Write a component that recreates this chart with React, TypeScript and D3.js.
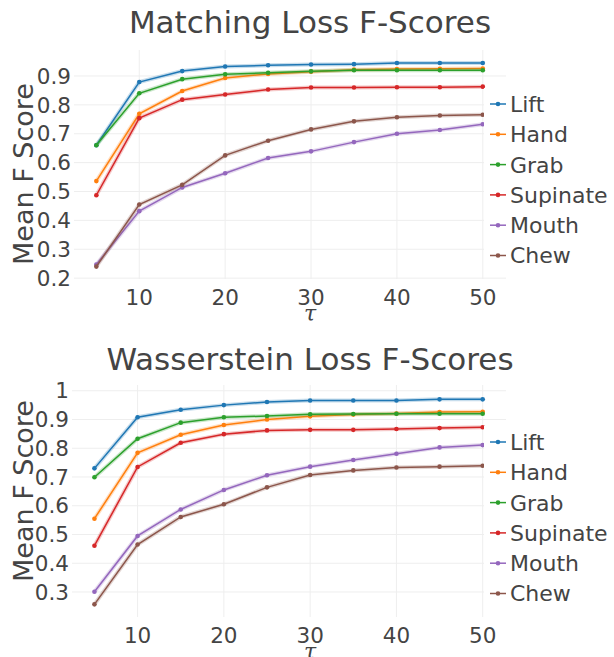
import React from "react";
import * as d3 from "d3";

const taus = [5, 10, 15, 20, 25, 30, 35, 40, 45, 50];
const seriesNames = ["Lift", "Hand", "Grab", "Supinate", "Mouth", "Chew"];
const colors = ["#1f77b4", "#ff7f0e", "#2ca02c", "#d62728", "#9467bd", "#8c564b"];

const matchingLift = [0.66, 0.879, 0.917, 0.933, 0.937, 0.94, 0.941, 0.945, 0.945, 0.945];
const matchingHand = [0.536, 0.769, 0.848, 0.893, 0.907, 0.915, 0.922, 0.924, 0.925, 0.926];
const matchingGrab = [0.66, 0.84, 0.889, 0.906, 0.911, 0.916, 0.92, 0.92, 0.92, 0.92];
const matchingSupinate = [0.487, 0.754, 0.818, 0.836, 0.853, 0.86, 0.86, 0.861, 0.861, 0.863];
const matchingMouth = [0.247, 0.432, 0.514, 0.563, 0.616, 0.639, 0.671, 0.7, 0.713, 0.733];
const matchingChew = [0.24, 0.455, 0.523, 0.625, 0.676, 0.715, 0.743, 0.757, 0.763, 0.766];

const wassLift = [0.73, 0.908, 0.934, 0.95, 0.961, 0.966, 0.966, 0.966, 0.97, 0.97];
const wassHand = [0.555, 0.784, 0.847, 0.881, 0.9, 0.911, 0.917, 0.921, 0.926, 0.927];
const wassGrab = [0.699, 0.833, 0.889, 0.908, 0.912, 0.918, 0.919, 0.92, 0.92, 0.92];
const wassSupinate = [0.461, 0.735, 0.819, 0.849, 0.862, 0.864, 0.864, 0.867, 0.87, 0.873];
const wassMouth = [0.301, 0.495, 0.587, 0.655, 0.706, 0.736, 0.759, 0.781, 0.803, 0.811];
const wassChew = [0.257, 0.465, 0.561, 0.605, 0.664, 0.707, 0.723, 0.733, 0.736, 0.739];

const xTicks = [10, 20, 30, 40, 50];
const matchingYTicks = [0.2, 0.3, 0.4, 0.5, 0.6, 0.7, 0.8, 0.9];
const wassYTicks = [0.3, 0.4, 0.5, 0.6, 0.7, 0.8, 0.9, 1];

const FONT = "DejaVu Sans, Verdana, sans-serif";
const TEXT = "#444";
const GRID = "#eee";

type ChartProps = {
  title: string;
  series: number[][];
  yTicks: number[];
  yDomain: [number, number];
  titleY: number;
  top: number;
  bottom: number;
  left: number;
  yTitleCenter: number;
  legendY0: number;
};

function Chart(p: ChartProps) {
  const right = 506;
  const x = d3.scaleLinear().domain([2.4, 52.7]).range([p.left, right]);
  const y = d3.scaleLinear().domain(p.yDomain).range([p.bottom, p.top]);
  const line = d3
    .line<number>()
    .x((_, i) => x(taus[i]))
    .y((d) => y(d));
  const fmt = (d: number) => (d === 1 ? "1" : d.toFixed(1));
  const legendStep = 30.3;
  return (
    <g>
      <text x={310} y={p.titleY} textAnchor="middle" fontSize={31} fill={TEXT} fontFamily={FONT}>
        {p.title}
      </text>
      {xTicks.map((t) => (
        <line key={"vx" + t} x1={x(t)} x2={x(t)} y1={p.top} y2={p.bottom} stroke={GRID} strokeWidth={1} />
      ))}
      {p.yTicks.map((t) => (
        <line key={"hy" + t} x1={p.left} x2={right} y1={y(t)} y2={y(t)} stroke={GRID} strokeWidth={1} />
      ))}
      {p.series.map((s, i) => (
        <g key={"s" + i}>
          <path d={line(s) || ""} fill="none" stroke={colors[i]} strokeWidth={4} strokeOpacity={0.25} />
          <path d={line(s) || ""} fill="none" stroke={colors[i]} strokeWidth={1.5} />
          {s.map((v, j) => (
            <circle key={j} cx={x(taus[j])} cy={y(v)} r={2.3} fill={colors[i]} />
          ))}
        </g>
      ))}
      {p.yTicks.map((t) => (
        <text
          key={"yl" + t}
          x={p.left - 3}
          y={y(t)}
          dy="0.36em"
          textAnchor="end"
          fontSize={21.5}
          fill={TEXT}
          fontFamily={FONT}
        >
          {fmt(t)}
        </text>
      ))}
      {xTicks.map((t) => (
        <text key={"xl" + t} x={x(t)} y={p.bottom + 26} textAnchor="middle" fontSize={21.5} fill={TEXT} fontFamily={FONT}>
          {t}
        </text>
      ))}
      <text
        x={310}
        y={p.bottom + 42}
        textAnchor="middle"
        fontSize={22}
        fontStyle="italic"
        fill={TEXT}
        fontFamily="DejaVu Serif, serif"
      >
        τ
      </text>
      <text
        transform={`translate(33,${p.yTitleCenter}) rotate(-90)`}
        textAnchor="middle"
        fontSize={27}
        fill={TEXT}
        fontFamily={FONT}
      >
        Mean F Score
      </text>
      <rect x={484} y={p.legendY0 - 16} width={130} height={legendStep * 6 + 2} fill="#fff" />
      {seriesNames.map((n, i) => {
        const ly = p.legendY0 + i * legendStep;
        return (
          <g key={"lg" + n}>
            <line x1={490} x2={506} y1={ly} y2={ly} stroke={colors[i]} strokeWidth={1.5} />
            <circle cx={498} cy={ly} r={2.3} fill={colors[i]} />
            <text x={510} y={ly} dy="0.36em" fontSize={22} fill={TEXT} fontFamily={FONT}>
              {n}
            </text>
          </g>
        );
      })}
    </g>
  );
}

export default function App() {
  return (
    <svg
      width={614}
      height={657}
      style={{ position: "absolute", left: 0, top: 0, background: "#fff" }}
    >
      <rect width={614} height={657} fill="#fff" />
      <Chart
        title="Matching Loss F-Scores"
        series={[matchingLift, matchingHand, matchingGrab, matchingSupinate, matchingMouth, matchingChew]}
        yTicks={matchingYTicks}
        yDomain={[0.197, 0.99]}
        titleY={33}
        top={50}
        bottom={279}
        left={74}
        yTitleCenter={174}
        legendY0={104}
      />
      <Chart
        title="Wasserstein Loss F-Scores"
        series={[wassLift, wassHand, wassGrab, wassSupinate, wassMouth, wassChew]}
        yTicks={wassYTicks}
        yDomain={[0.213, 1.02]}
        titleY={370}
        top={385}
        bottom={617}
        left={72}
        yTitleCenter={491}
        legendY0={442}
      />
    </svg>
  );
}
